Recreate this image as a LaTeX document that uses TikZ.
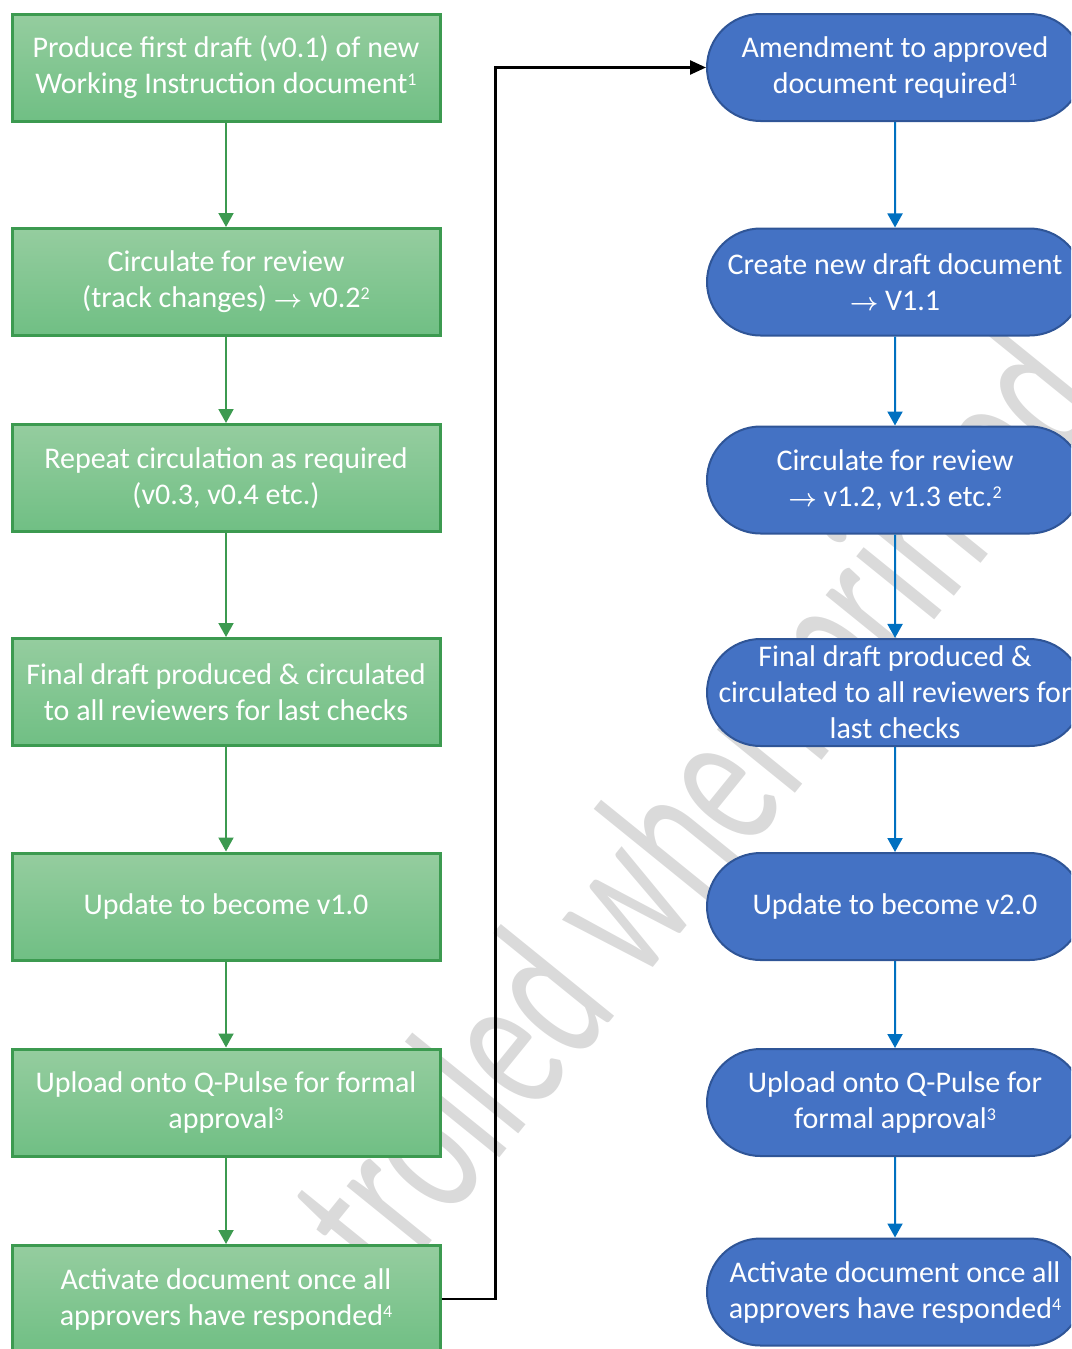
\documentclass[tikz,border=0pt]{standalone}
\usepackage{fontspec}
\usepackage{amsmath}
\setmainfont{Carlito}
\usetikzlibrary{arrows.meta,shapes.misc}
\definecolor{StepInk}{HTML}{3C9A50}
\definecolor{StepTop}{HTML}{95CD9F}
\definecolor{StepBottom}{HTML}{70BF84}
\definecolor{StageFill}{HTML}{4472C4}
\definecolor{StageInk}{HTML}{2F5597}
\definecolor{StageFlow}{HTML}{0070C0}
\definecolor{MarkShade}{HTML}{DADADA}
\newcommand{\fnote}[1]{\raisebox{8pt}{\fontsize{18}{18}\selectfont #1}}
\newcommand{\toarrow}{$\boldsymbol{\rightarrow}$}
\tikzset{
  chart/.style={x=1pt,y=-1pt,font=\fontsize{30}{36}\selectfont,text=white},
  stepbox/.style={draw=StepInk,line width=3pt,top color=StepTop,bottom color=StepBottom,
    minimum width=428pt,minimum height=107pt,align=center,inner sep=0pt},
  stagebox/.style={rounded rectangle,draw=StageInk,line width=2pt,fill=StageFill,
    minimum width=376pt,minimum height=107pt,align=center,inner sep=0pt},
  stepflow/.style={-{Triangle[length=14pt,width=15pt]},line width=2pt,draw=StepInk},
  stageflow/.style={-{Triangle[length=14pt,width=15pt]},line width=2pt,draw=StageFlow},
  linkflow/.style={-{Triangle[length=16pt,width=14pt]},line width=2.5pt,draw=black},
}

\begin{document}
\begin{tikzpicture}[chart]
  \useasboundingbox (0,0) rectangle (1071,1349);
  \clip (0,0) rectangle (1071,1349);

  % watermark behind everything
  \node[text=MarkShade,font=\fontsize{210}{210}\selectfont,transform shape,
    rotate=51,xscale=0.65,anchor=base west,inner sep=0pt] (mark) at (165,1571)
    {Uncontrolled when printed};

  % first issue, left column
  \node[stepbox] (draft)    at (226,67.5)  {Produce first draft (v0.1) of new\\Working Instruction document\fnote{1}};
  \node[stepbox] (review)   at (226,282)   {Circulate for review\\(track changes) \toarrow{} v0.2\fnote{2}};
  \node[stepbox] (repeat)   at (226,478)   {Repeat circulation as required\\(v0.3, v0.4 etc.)};
  \node[stepbox] (final)    at (226,692)   {Final draft produced \& circulated\\to all reviewers for last checks};
  \node[stepbox] (update)   at (226,906.5) {Update to become v1.0};
  \node[stepbox] (upload)   at (226,1102.5){Upload onto Q-Pulse for formal\\approval\fnote{3}};
  \node[stepbox] (activate) at (226,1299)  {Activate document once all\\approvers have responded\fnote{4}};

  % amendment, right column
  \node[stagebox] (amend)     at (895,67.5)  {Amendment to approved\\document required\fnote{1}};
  \node[stagebox] (newdraft)  at (895,282)   {Create new draft document\\\toarrow{} V1.1};
  \node[stagebox] (rereview)  at (895,480)   {Circulate for review\\\toarrow{} v1.2, v1.3 etc.\fnote{2}};
  \node[stagebox] (refinal)   at (895,692.5) {Final draft produced \&\\\makebox[260pt]{circulated to all reviewers for}\\last checks};
  \node[stagebox] (reupdate)  at (895,906.5) {Update to become v2.0};
  \node[stagebox] (reupload)  at (895,1102.5){Upload onto Q-Pulse for\\formal approval\fnote{3}};
  \node[stagebox] (reactivate) at (895,1292) {Activate document once all\\approvers have responded\fnote{4}};

  \draw[stepflow] (draft) -- (review);
  \draw[stepflow] (review) -- (repeat);
  \draw[stepflow] (repeat) -- (final);
  \draw[stepflow] (final) -- (update);
  \draw[stepflow] (update) -- (upload);
  \draw[stepflow] (upload) -- (activate);

  \draw[stageflow] (amend) -- (newdraft);
  \draw[stageflow] (newdraft) -- (rereview);
  \draw[stageflow] (rereview) -- (refinal);
  \draw[stageflow] (refinal) -- (reupdate);
  \draw[stageflow] (reupdate) -- (reupload);
  \draw[stageflow] (reupload) -- (reactivate);

  \draw[linkflow] (activate.east) -- ++(54,0) |- (amend.west);
\end{tikzpicture}
\end{document}
